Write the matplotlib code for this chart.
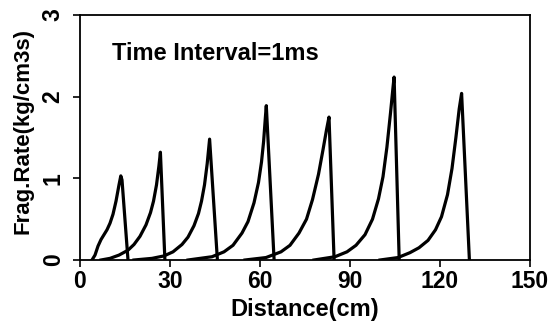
import matplotlib
matplotlib.use('Agg')
import matplotlib.pyplot as plt

plt.rcParams['font.family'] = ['Liberation Sans', 'DejaVu Sans']
plt.rcParams['font.weight'] = 'bold'
plt.rcParams['axes.labelweight'] = 'bold'

# Spikes: distance (cm) and frag. rate (kg/cm3s)
x1 = [4, 5, 6, 7, 8, 9, 10, 11, 12, 13, 13.6, 14.0, 16.0]
y1 = [0, 0.06, 0.17, 0.25, 0.31, 0.37, 0.45, 0.56, 0.72, 0.92, 1.03, 0.98, 0]

x2 = [7, 10, 13, 16, 18, 20, 22, 23.5, 24.5, 25.5, 26.3, 26.8, 28.3]
y2 = [0, 0.02, 0.06, 0.12, 0.19, 0.29, 0.43, 0.58, 0.72, 0.92, 1.15, 1.32, 0]

x3 = [18, 24, 28, 31, 34, 36, 38, 39.5, 40.5, 41.5, 42.4, 43.2, 45.8]
y3 = [0, 0.02, 0.05, 0.1, 0.19, 0.28, 0.42, 0.57, 0.72, 0.92, 1.18, 1.48, 0]

x4 = [36, 44, 48, 51, 54, 56, 58, 59.5, 60.5, 61.2, 61.8, 62.1, 64.7]
y4 = [0, 0.04, 0.1, 0.18, 0.33, 0.47, 0.7, 0.95, 1.2, 1.45, 1.75, 1.89, 0]

x5 = [55, 62, 67, 70, 73, 75.5, 77.5, 79.5, 81, 82.2, 83.0, 84.7]
y5 = [0, 0.03, 0.1, 0.18, 0.33, 0.5, 0.74, 1.05, 1.35, 1.6, 1.75, 0]

x6 = [78, 85, 89, 92, 95, 97.5, 99.5, 101, 102.3, 103.5, 104.3, 104.7, 106.4]
y6 = [0, 0.04, 0.1, 0.18, 0.31, 0.5, 0.75, 1.02, 1.38, 1.8, 2.1, 2.24, 0]

x7 = [100, 106, 110, 113, 116, 118.5, 120.5, 122.5, 124, 125.3, 126.4, 127.2, 129.8]
y7 = [0, 0.03, 0.09, 0.15, 0.24, 0.37, 0.53, 0.8, 1.12, 1.5, 1.85, 2.04, 0]

spikes = [(x1, y1), (x2, y2), (x3, y3), (x4, y4), (x5, y5), (x6, y6), (x7, y7)]

xticks = [0, 30, 60, 90, 120, 150]
yticks = [0, 1, 2, 3]

fig = plt.figure(figsize=(5.51, 3.24), dpi=100)
ax = fig.add_axes([80 / 551, 64 / 324, 450 / 551, 245 / 324])

for xs, ys in spikes:
    ax.plot(xs, ys, color='black', lw=2.3, solid_joinstyle='round')

ax.set_xlim(0, 150)
ax.set_ylim(0, 3)
ax.set_xticks(xticks)
ax.set_yticks(yticks)
ax.tick_params(direction='out', length=5, width=1.2, labelsize=16.5)
ax.tick_params(axis='x', pad=2)
ax.tick_params(axis='y', pad=6)
for lab in ax.get_yticklabels():
    lab.set_rotation(90)
    lab.set_va('center')
for sp in ax.spines.values():
    sp.set_linewidth(1.3)

ax.set_xlabel('Distance(cm)', fontsize=17, labelpad=4)
ax.set_ylabel('Frag.Rate(kg/cm3s)', fontsize=16)
ax.yaxis.set_label_coords(-0.104, 0.527)
ax.text(10.7, 2.53, 'Time Interval=1ms', fontsize=17, va='center', ha='left')

fig.savefig('out.png', dpi=100)
